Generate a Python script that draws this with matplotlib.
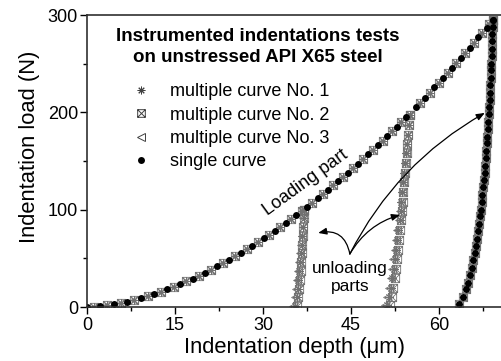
import numpy as np
import matplotlib
matplotlib.use('Agg')
import matplotlib.pyplot as plt
from matplotlib.path import Path
from matplotlib.lines import Line2D

plt.rcParams['font.family'] = ['Liberation Sans', 'DejaVu Sans']

# single curve: loading (depth in um, load in N)
load_h = [0.0, 2.3, 4.6, 6.9, 9.2, 11.5, 13.7, 15.9, 18.0, 20.1, 22.2, 24.2, 26.2,
          28.2, 30.1, 32.0, 33.9, 35.7, 37.5, 39.3, 41.1, 42.8, 44.5, 46.2, 47.9,
          49.6, 51.2, 52.8, 54.4, 56.0, 57.6, 59.2, 60.7, 62.2, 63.7, 65.2, 66.7,
          68.1, 69.2]
load_P = [0.0, 0.9, 2.8, 5.6, 9.2, 13.5, 18.2, 23.5, 29.1, 35.2, 41.7, 48.4, 55.5,
          63.0, 70.5, 78.3, 86.5, 94.5, 102.8, 111.5, 120.4, 129.1, 138.1, 147.2,
          156.7, 166.4, 175.7, 185.3, 195.0, 205.0, 215.2, 225.6, 235.5, 245.6,
          255.8, 266.3, 276.9, 287.0, 295.0]

# last unloading (shared by all curves)
unl3_h = [69.20, 69.15, 69.10, 69.05, 69.00, 68.95, 68.90, 68.85, 68.80, 68.75,
          68.70, 68.63, 68.55, 68.48, 68.40, 68.33, 68.25, 68.15, 68.05, 67.95,
          67.85, 67.75, 67.65, 67.53, 67.40, 67.28, 67.15, 67.00, 66.85, 66.68,
          66.50, 66.30, 66.10, 65.85, 65.60, 65.30, 64.95, 64.55, 64.00, 63.45]
unl3_P = [295, 288, 280, 273, 265, 258, 250, 243, 235, 228, 220, 213, 205, 198,
          190, 183, 175, 168, 160, 153, 145, 138, 130, 123, 115, 108, 100, 93,
          85, 78, 70, 63, 55, 48, 40, 33, 25, 18, 10, 3]

# multiple curves: loading segments
mload1_h = [1.15, 3.45, 5.75, 8.05, 10.35, 12.6, 14.8, 16.95, 19.05, 21.15, 23.2,
            25.2, 27.2, 29.15, 31.05, 32.95, 34.8, 36.6, 37.0]
mload1_P = [0.3, 1.7, 4.1, 7.3, 11.2, 15.8, 20.8, 26.2, 32.1, 38.4, 45.0, 51.9,
            59.2, 66.7, 74.3, 82.3, 90.4, 98.6, 100.0]
mload2_h = [38.4, 40.2, 42.0, 43.65, 45.35, 47.05, 48.75, 50.4, 52.0, 53.6, 55.0]
mload2_P = [107.1, 115.9, 125.0, 133.5, 142.6, 151.9, 161.5, 171.0, 180.5, 190.1, 197.0]
mload3_h = [56.8, 58.4, 59.95, 61.45, 62.95, 64.45, 65.95, 67.4, 68.6, 69.2]
mload3_P = [210.1, 220.3, 230.5, 240.5, 250.7, 261.0, 271.6, 281.9, 290.6, 295.0]

# multiple curves: first and second unloading
unl1_P = [100, 91, 82, 73, 64, 55, 46, 37, 28, 19, 10, 1]
unl1_h = {
    1: [37.00, 36.90, 36.79, 36.68, 36.56, 36.44, 36.32, 36.19, 36.04, 35.89, 35.71, 35.46],
    2: [37.00, 36.92, 36.84, 36.76, 36.67, 36.58, 36.49, 36.39, 36.28, 36.17, 36.03, 35.84],
    3: [37.00, 36.88, 36.75, 36.62, 36.48, 36.34, 36.19, 36.03, 35.87, 35.68, 35.47, 35.17],
}
unl2_P = [197, 187, 177, 167, 158, 148, 138, 128, 118, 108, 99, 89, 79, 69, 59,
          49, 39, 30, 20, 10, 2]
unl2_h = {
    1: [55.00, 54.85, 54.70, 54.56, 54.42, 54.26, 54.10, 53.94, 53.77, 53.60, 53.45,
        53.27, 53.08, 52.89, 52.69, 52.48, 52.26, 52.04, 51.78, 51.48, 51.15],
    2: [55.00, 54.87, 54.74, 54.61, 54.49, 54.35, 54.22, 54.07, 53.93, 53.78, 53.64,
        53.49, 53.32, 53.15, 52.98, 52.80, 52.60, 52.41, 52.19, 51.92, 51.63],
    3: [55.00, 54.84, 54.67, 54.51, 54.36, 54.19, 54.01, 53.84, 53.65, 53.46, 53.29,
        53.10, 52.89, 52.68, 52.46, 52.23, 51.98, 51.75, 51.46, 51.13, 50.76],
}

labels = ['multiple curve No. 1', 'multiple curve No. 2', 'multiple curve No. 3',
          'single curve']

# square with a cross inside
boxx = Path([(-1, -1), (1, -1), (1, 1), (-1, 1), (-1, -1), (-1, -1), (1, 1), (-1, 1), (1, -1)],
            [Path.MOVETO, Path.LINETO, Path.LINETO, Path.LINETO, Path.CLOSEPOLY,
             Path.MOVETO, Path.LINETO, Path.MOVETO, Path.LINETO])
markers = {1: (8, 2, 0), 2: boxx, 3: '<'}
grey = '#707070'

fig = plt.figure(figsize=(5.01, 3.61), dpi=100)
ax = fig.add_axes([87 / 501, 54 / 361, 414 / 501, 292 / 361])

for k in (1, 2, 3):
    hh = mload1_h + unl1_h[k] + mload2_h + unl2_h[k] + mload3_h + unl3_h
    pp = mload1_P + unl1_P + mload2_P + unl2_P + mload3_P + unl3_P
    ax.plot(hh, pp, ls='none', marker=markers[k], ms=6, mec=grey, mfc='none', mew=0.6)

ax.plot(load_h + unl3_h, load_P + unl3_P, ls='none', marker='o', ms=5, mfc='black',
        mec='black', mew=0)

ax.set_xlim(0, 70.56)
ax.set_ylim(0, 300)
ax.set_xticks([0, 15, 30, 45, 60])
ax.set_xticks([7.5, 22.5, 37.5, 52.5, 67.5], minor=True)
ax.set_yticks([0, 100, 200, 300])
ax.set_yticks([50, 150, 250], minor=True)
ax.tick_params(which='major', direction='out', length=5, width=1, labelsize=13)
ax.tick_params(axis='x', which='major', pad=2.5)
ax.tick_params(axis='y', which='major', pad=1.5)
ax.tick_params(which='minor', direction='out', length=3, width=1)
ax.spines['right'].set_visible(False)
for s in ('left', 'bottom', 'top'):
    ax.spines[s].set_linewidth(1.2)
    ax.spines[s].set_color('#303030')

ax.set_xlabel('Indentation depth (μm)', fontsize=15.8)
ax.set_ylabel('Indentation load (N)', fontsize=15.8)
ax.xaxis.set_label_coords(0.5, -0.102)
ax.yaxis.set_label_coords(-0.1135, 0.548)

ax.text(0.413, 0.89, 'Instrumented indentations tests\non unstressed API X65 steel',
        transform=ax.transAxes, ha='center', va='center', fontsize=13.5,
        fontweight='bold', linespacing=1.35)

handles = [Line2D([], [], ls='none', marker=markers[k], ms=5.5, mec='#404040',
                  mfc='none', mew=0.7) for k in (1, 2, 3)]
handles.append(Line2D([], [], ls='none', marker='o', ms=5, mfc='black', mec='black', mew=0))
ax.legend(handles, labels, loc='upper left', bbox_to_anchor=(132 / 501, (361 - 83) / 361),
          bbox_transform=fig.transFigure, frameon=False, fontsize=13, borderpad=0,
          borderaxespad=0, handlelength=1.0, handletextpad=1.1, labelspacing=0.36)

ax.text(37.3, 127.4, 'Loading part', rotation=36, rotation_mode='anchor',
        ha='center', va='center', fontsize=13)
ax.text(44.8, 29.8, 'unloading\nparts', ha='center', va='center', fontsize=12.5,
        linespacing=1.25)

start = (44.8, 54.5)
for tip, rad in [((39.4, 76.1), 0.5), ((53.35, 94.6), -0.2), ((67.8, 199.4), -0.15)]:
    ax.annotate('', xy=tip, xytext=start,
                arrowprops=dict(arrowstyle='-|>,head_length=0.5,head_width=0.2',
                                connectionstyle='arc3,rad=%s' % rad, color='black',
                                lw=0.9, shrinkA=0, shrinkB=0))

fig.savefig('out.png', dpi=100)
